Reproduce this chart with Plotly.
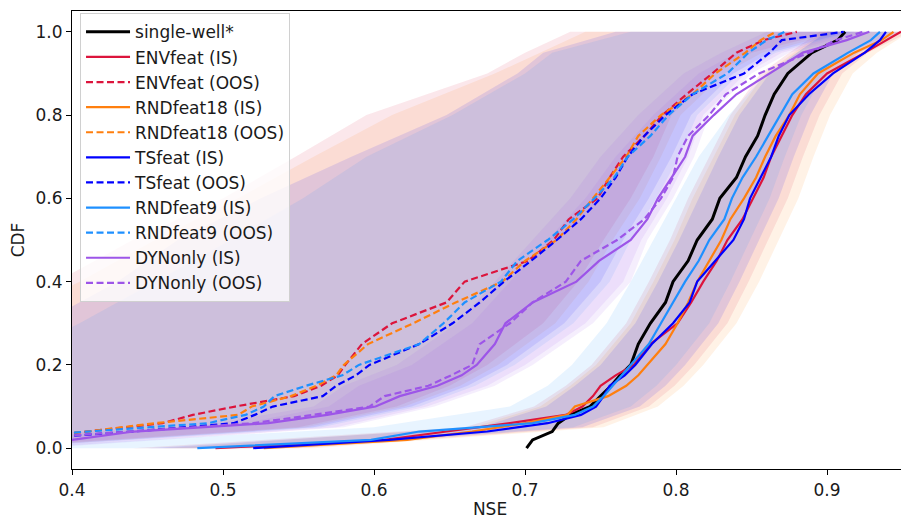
import plotly.graph_objects as go

# CDF levels at which each curve's NSE was read
cdf_levels = [0.0, 0.02, 0.04, 0.06, 0.08, 0.10, 0.125, 0.15, 0.175, 0.20, 0.25, 0.30, 0.35,
              0.40, 0.45, 0.50, 0.55, 0.60, 0.65, 0.70, 0.75, 0.80, 0.85, 0.90, 0.95, 0.98, 1.00]

single_well = [0.701, 0.705, 0.718, 0.722, 0.730, 0.743, 0.750, 0.757, 0.763, 0.770, 0.775, 0.783, 0.793,
               0.798, 0.808, 0.814, 0.824, 0.829, 0.840, 0.846, 0.854, 0.859, 0.865, 0.874, 0.890, 0.907, 0.912]

envfeat_is = [0.495, 0.607, 0.648, 0.690, 0.727, 0.738, 0.745, 0.750, 0.760, 0.772, 0.783, 0.801, 0.810,
              0.818, 0.827, 0.834, 0.844, 0.851, 0.858, 0.863, 0.870, 0.877, 0.886, 0.900, 0.925, 0.940, 0.949]
envfeat_oos = [0.20, 0.36, 0.41, 0.46, 0.480, 0.508, 0.547, 0.565, 0.576, 0.581, 0.592, 0.612, 0.648,
               0.660, 0.702, 0.719, 0.729, 0.748, 0.756, 0.765, 0.779, 0.791, 0.807, 0.824, 0.840, 0.858, 0.880]

rndfeat18_is = [0.527, 0.622, 0.665, 0.700, 0.728, 0.733, 0.755, 0.767, 0.775, 0.781, 0.793, 0.801, 0.808,
                0.814, 0.822, 0.830, 0.836, 0.845, 0.853, 0.859, 0.866, 0.875, 0.882, 0.894, 0.918, 0.936, 0.944]
rndfeat18_oos = [0.20, 0.35, 0.41, 0.455, 0.510, 0.519, 0.545, 0.562, 0.575, 0.580, 0.596, 0.626, 0.654,
                 0.685, 0.700, 0.721, 0.734, 0.745, 0.756, 0.767, 0.775, 0.790, 0.811, 0.826, 0.846, 0.856, 0.866]

tsfeat_is = [0.520, 0.610, 0.675, 0.715, 0.737, 0.747, 0.752, 0.756, 0.766, 0.773, 0.784, 0.798, 0.809,
             0.814, 0.826, 0.838, 0.845, 0.849, 0.856, 0.863, 0.868, 0.875, 0.888, 0.904, 0.925, 0.935, 0.939]
tsfeat_oos = [0.20, 0.36, 0.44, 0.507, 0.521, 0.533, 0.566, 0.575, 0.588, 0.597, 0.630, 0.652, 0.670,
              0.686, 0.704, 0.721, 0.737, 0.750, 0.760, 0.768, 0.779, 0.793, 0.811, 0.845, 0.862, 0.870, 0.911]

rndfeat9_is = [0.483, 0.598, 0.630, 0.705, 0.733, 0.745, 0.752, 0.758, 0.764, 0.770, 0.782, 0.790, 0.798,
               0.806, 0.815, 0.822, 0.832, 0.837, 0.844, 0.853, 0.861, 0.869, 0.877, 0.891, 0.914, 0.929, 0.935]
rndfeat9_oos = [0.20, 0.34, 0.41, 0.49, 0.515, 0.527, 0.534, 0.555, 0.579, 0.590, 0.630, 0.646, 0.660,
                0.684, 0.695, 0.715, 0.732, 0.746, 0.759, 0.768, 0.783, 0.795, 0.811, 0.834, 0.848, 0.860, 0.872]

dynonly_is = [0.20, 0.40, 0.441, 0.53, 0.569, 0.601, 0.617, 0.642, 0.658, 0.668, 0.680, 0.687, 0.705,
              0.734, 0.749, 0.770, 0.781, 0.788, 0.797, 0.806, 0.811, 0.825, 0.840, 0.862, 0.884, 0.913, 0.928]
dynonly_oos = [0.20, 0.36, 0.438, 0.52, 0.56, 0.597, 0.607, 0.636, 0.651, 0.665, 0.670, 0.690, 0.705,
               0.727, 0.737, 0.761, 0.779, 0.790, 0.798, 0.801, 0.808, 0.822, 0.833, 0.855, 0.888, 0.906, 0.924]

# Spread bands (left / right NSE edge) at coarser CDF levels
band_levels = [0.0, 0.05, 0.10, 0.15, 0.20, 0.30, 0.40, 0.50, 0.60, 0.70, 0.80, 0.90, 0.95, 1.00]

envfeat_is_lo = [0.44, 0.66, 0.706, 0.727, 0.744, 0.767, 0.782, 0.796, 0.808, 0.822, 0.836, 0.856, 0.875, 0.895]
envfeat_is_hi = [0.55, 0.745, 0.782, 0.799, 0.812, 0.834, 0.848, 0.861, 0.874, 0.884, 0.895, 0.910, 0.927, 0.955]
rndfeat18_is_lo = [0.46, 0.665, 0.71, 0.73, 0.747, 0.77, 0.785, 0.799, 0.811, 0.825, 0.839, 0.859, 0.878, 0.898]
rndfeat18_is_hi = [0.56, 0.752, 0.788, 0.805, 0.818, 0.840, 0.855, 0.868, 0.881, 0.891, 0.902, 0.917, 0.933, 0.955]
tsfeat_is_lo = [0.45, 0.67, 0.714, 0.733, 0.750, 0.773, 0.788, 0.802, 0.815, 0.828, 0.842, 0.862, 0.880, 0.900]
tsfeat_is_hi = [0.54, 0.738, 0.776, 0.793, 0.806, 0.828, 0.842, 0.855, 0.868, 0.878, 0.889, 0.904, 0.921, 0.950]
rndfeat9_is_lo = [0.35, 0.60, 0.69, 0.715, 0.731, 0.754, 0.770, 0.785, 0.800, 0.815, 0.835, 0.860, 0.880, 0.900]
rndfeat9_is_hi = [0.53, 0.732, 0.770, 0.787, 0.800, 0.822, 0.836, 0.849, 0.862, 0.872, 0.883, 0.898, 0.915, 0.945]

envfeat_oos_lo = [-0.5, -0.3, -0.1, 0.05, 0.20, 0.33, 0.39, 0.44, 0.50, 0.548, 0.595, 0.675, 0.70, 0.73]
envfeat_oos_hi = [0.34, 0.55, 0.615, 0.650, 0.675, 0.712, 0.735, 0.752, 0.770, 0.785, 0.797, 0.825, 0.850, 0.905]
rndfeat18_oos_lo = [-0.5, -0.3, -0.1, 0.08, 0.22, 0.35, 0.405, 0.455, 0.51, 0.56, 0.612, 0.68, 0.71, 0.74]
rndfeat18_oos_hi = [0.35, 0.555, 0.62, 0.657, 0.682, 0.720, 0.742, 0.758, 0.776, 0.790, 0.803, 0.832, 0.857, 0.910]
tsfeat_oos_lo = [-0.5, -0.3, -0.1, 0.10, 0.25, 0.38, 0.43, 0.47, 0.525, 0.585, 0.648, 0.695, 0.712, 0.76]
tsfeat_oos_hi = [0.35, 0.56, 0.625, 0.662, 0.688, 0.726, 0.750, 0.765, 0.782, 0.797, 0.810, 0.838, 0.862, 0.915]
rndfeat9_oos_lo = [-0.5, -0.3, -0.1, 0.12, 0.35, 0.405, 0.455, 0.505, 0.553, 0.595, 0.652, 0.70, 0.718, 0.77]
rndfeat9_oos_hi = [0.36, 0.565, 0.63, 0.667, 0.693, 0.732, 0.756, 0.770, 0.787, 0.802, 0.814, 0.842, 0.866, 0.918]
dynonly_is_lo = [0.20, 0.50, 0.57, 0.59, 0.625, 0.665, 0.69, 0.715, 0.74, 0.76, 0.785, 0.815, 0.84, 0.87]
dynonly_is_hi = [0.38, 0.58, 0.64, 0.68, 0.705, 0.745, 0.770, 0.781, 0.798, 0.812, 0.822, 0.850, 0.875, 0.930]
dynonly_oos_lo = [0.15, 0.48, 0.56, 0.58, 0.615, 0.655, 0.68, 0.705, 0.73, 0.75, 0.775, 0.805, 0.83, 0.86]
dynonly_oos_hi = [0.37, 0.575, 0.635, 0.675, 0.70, 0.740, 0.765, 0.777, 0.794, 0.808, 0.818, 0.846, 0.870, 0.925]

x_ticks = [0.4, 0.5, 0.6, 0.7, 0.8, 0.9]
y_ticks = [0.0, 0.2, 0.4, 0.6, 0.8, 1.0]

series = [
    ("ENVfeat", (220, 20, 60), envfeat_is, envfeat_oos,
     envfeat_is_lo, envfeat_is_hi, envfeat_oos_lo, envfeat_oos_hi),
    ("RNDfeat18", (255, 127, 14), rndfeat18_is, rndfeat18_oos,
     rndfeat18_is_lo, rndfeat18_is_hi, rndfeat18_oos_lo, rndfeat18_oos_hi),
    ("TSfeat", (0, 0, 255), tsfeat_is, tsfeat_oos,
     tsfeat_is_lo, tsfeat_is_hi, tsfeat_oos_lo, tsfeat_oos_hi),
    ("RNDfeat9", (30, 144, 255), rndfeat9_is, rndfeat9_oos,
     rndfeat9_is_lo, rndfeat9_is_hi, rndfeat9_oos_lo, rndfeat9_oos_hi),
    ("DYNonly", (157, 85, 232), dynonly_is, dynonly_oos,
     dynonly_is_lo, dynonly_is_hi, dynonly_oos_lo, dynonly_oos_hi),
]

FONT = "DejaVu Sans"
FS = 17
fig = go.Figure()

# bands first
for name, rgb, _, _, is_lo, is_hi, oos_lo, oos_hi in series:
    fill = "rgba(%d,%d,%d,0.10)" % rgb
    for lo, hi in ((is_lo, is_hi), (oos_lo, oos_hi)):
        fig.add_trace(go.Scatter(
            x=list(lo) + list(hi)[::-1],
            y=list(band_levels) + list(band_levels)[::-1],
            fill="toself", fillcolor=fill, mode="lines", line=dict(width=0),
            hoverinfo="skip", showlegend=False))

fig.add_trace(go.Scatter(x=single_well, y=cdf_levels, mode="lines", name="single-well*",
                         legendgroup="sw", line=dict(color="black", width=3)))
for name, rgb, is_vals, oos_vals, *_ in series:
    col = "rgb(%d,%d,%d)" % rgb
    fig.add_trace(go.Scatter(x=is_vals, y=cdf_levels, mode="lines", name=name + " (IS)",
                             legendgroup=name + "is", line=dict(color=col, width=2.2)))
    fig.add_trace(go.Scatter(x=oos_vals, y=cdf_levels, mode="lines", name=name + " (OOS)",
                             legendgroup=name + "oos",
                             line=dict(color=col, width=2.2, dash="7px,3.5px")))

axis_common = dict(showline=True, linecolor="black", linewidth=1.2, mirror=True,
                   ticks="outside", ticklen=5, tickwidth=1.2, tickcolor="black",
                   showgrid=False, zeroline=False, tickfont=dict(family=FONT, size=FS, color="#1a1a1a"))

# the page body adds an 8px margin, so the figure is sized/margined to compensate
fig.update_layout(
    width=901, height=512,
    margin=dict(l=64, r=1, t=3, b=51, autoexpand=False),
    paper_bgcolor="white", plot_bgcolor="white",
    font=dict(family=FONT, size=FS, color="#1a1a1a"),
    xaxis=dict(range=[0.4, 0.9536], tickvals=x_ticks, tickformat=".1f",
               title=dict(text="NSE", font=dict(family=FONT, size=FS), standoff=4), **axis_common),
    yaxis=dict(range=[-0.05, 1.05], tickvals=y_ticks, tickformat=".1f",
               title=dict(text="CDF", font=dict(family=FONT, size=FS), standoff=10), **axis_common),
    legend=dict(x=0.0096, y=0.995, xanchor="left", yanchor="top",
                bgcolor="rgba(255,255,255,0.8)", bordercolor="#d0d0d0", borderwidth=1,
                font=dict(family=FONT, size=FS, color="#1a1a1a"),
                traceorder="grouped", tracegroupgap=0, itemwidth=44),
    showlegend=True,
)

fig.write_html("out.html")
